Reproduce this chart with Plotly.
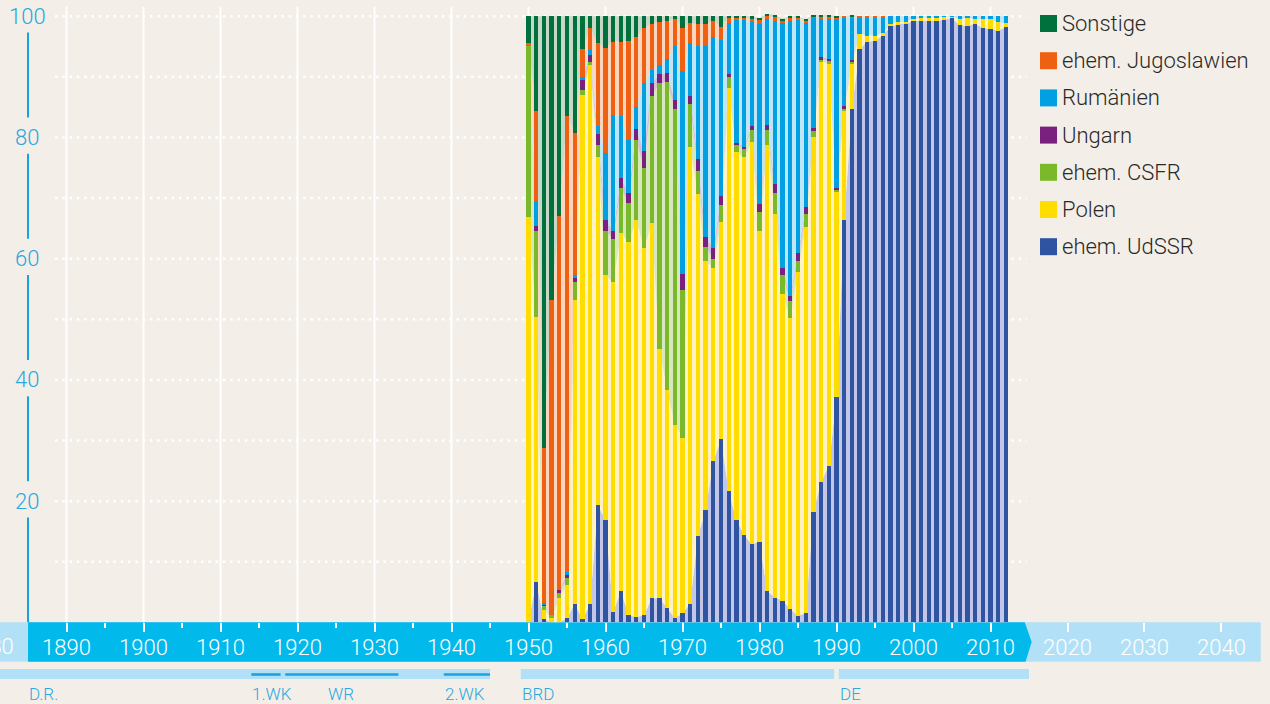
import plotly.graph_objects as go

years = list(range(1950, 2013))

udssr = [0, 6.7, 0.5, 0, 0, 0.7, 3.1, 0.5, 3.0, 19.3,
         16.9, 1.7, 5.2, 1.2, 0.9, 1.2, 4.0, 4.0, 2.4, 0.7,
         1.5, 3.1, 14.2, 18.5, 26.6, 30.2, 21.6, 16.9, 14.4, 12.9,
         13.3, 5.2, 4.1, 3.6, 2.2, 1.1, 1.5, 18.2, 23.2, 25.8,
         37.1, 66.4, 84.7, 94.6, 95.8, 95.9, 96.8, 98.3, 98.7, 98.8,
         99.2, 99.2, 99.2, 99.2, 99.4, 99.7, 98.5, 98.4, 98.7, 98.1,
         97.9, 97.6, 98.2]
polen = [66.8, 43.7, 1.5, 0.8, 4.1, 5.5, 50.1, 86.5, 88.9, 57.4,
         40.4, 54.4, 59.1, 61.5, 65.5, 60.5, 61.8, 41.1, 36.0, 31.9,
         29.0, 75.4, 56.5, 41.1, 31.9, 35.9, 66.5, 60.7, 62.3, 66.4,
         51.2, 73.6, 63.3, 50.6, 48.0, 56.7, 63.8, 61.8, 69.3, 66.3,
         34.0, 18.1, 7.5, 2.5, 1.0, 0.9, 0.4, 0.4, 0.3, 0.3,
         0.4, 0.5, 0.6, 0.6, 0.5, 0.2, 1.0, 1.3, 0.8, 1.4,
         1.6, 1.4, 0.6]
csfr = [28.2, 14.2, 0.8, 0.4, 0.8, 1.1, 2.9, 0.8, 0.6, 2.1,
        7.3, 7.2, 7.3, 6.5, 13.1, 13.2, 21.0, 43.8, 50.7, 52.1,
        24.3, 7.0, 3.7, 2.3, 1.5, 2.7, 1.8, 1.1, 1.5, 1.9,
        3.2, 2.4, 3.4, 3.1, 2.8, 1.8, 2.0, 1.0, 0.3, 0.6,
        0.3, 0.3, 0.3, 0, 0, 0, 0, 0, 0, 0,
        0, 0, 0, 0, 0, 0, 0, 0, 0, 0,
        0, 0, 0]
ungarn = [0, 0.8, 0.1, 0, 0.4, 0.6, 0.7, 1.8, 1.1, 1.8,
          1.8, 1.2, 1.7, 1.6, 1.9, 2.8, 2.1, 1.5, 1.5, 1.4,
          2.6, 1.3, 2.1, 1.6, 1.7, 1.5, 0.5, 0.4, 0.3, 0.7,
          1.3, 0.9, 1.5, 1.2, 0.8, 1.3, 1.3, 0.6, 0.4, 0.3,
          0.3, 0.3, 0.3, 0, 0, 0, 0, 0, 0, 0,
          0, 0, 0, 0, 0, 0, 0, 0, 0, 0,
          0, 0, 0]
rumaenien = [0, 4.1, 0.3, 0, 0, 0.4, 0.5, 0.3, 0.9, 1.3,
             11.0, 19.2, 10.2, 8.7, 3.6, 11.2, 2.2, 1.5, 2.4, 8.9,
             33.6, 8.7, 18.5, 31.6, 34.9, 25.8, 8.4, 20.3, 21.0, 17.1,
             29.7, 17.5, 26.9, 40.3, 45.4, 38.5, 30.3, 18.2, 6.4, 6.5,
             27.9, 14.6, 6.9, 2.7, 3.0, 3.0, 2.6, 1.3, 1.0, 0.9,
             0.4, 0.3, 0.2, 0.2, 0.1, 0.1, 0.5, 0.3, 0.5, 0.5,
             0.5, 1.0, 1.2]
jugoslawien = [0.5, 14.9, 25.6, 52.0, 61.8, 75.2, 23.5, 4.7, 3.6, 13.6,
               17.4, 12.1, 12.3, 16.4, 11.6, 9.2, 7.6, 7.1, 6.2, 4.6,
               7.1, 3.3, 3.7, 3.6, 2.6, 2.1, 0.9, 0.4, 0.3, 0.6,
               0.6, 0.4, 0.6, 0.5, 0.6, 0.4, 0.4, 0.2, 0.3, 0.5,
               0.2, 0.3, 0.2, 0.2, 0.2, 0.2, 0.2, 0, 0, 0,
               0, 0, 0, 0, 0, 0, 0, 0, 0, 0,
               0, 0, 0]
sonstige = [4.5, 15.6, 71.2, 46.8, 32.9, 16.5, 19.2, 5.4, 1.9, 4.5,
            5.2, 4.2, 4.2, 4.1, 3.4, 1.9, 1.3, 1.0, 0.8, 0.4,
            1.9, 1.2, 1.3, 1.3, 0.8, 1.8, 0.3, 0.2, 0.2, 0.4,
            0.4, 0.4, 0.4, 0.3, 0.2, 0.2, 0.2, 0.2, 0.2, 0.2,
            0.2, 0, 0.2, 0, 0, 0, 0, 0, 0, 0,
            0, 0, 0, 0, 0, 0, 0, 0, 0, 0,
            0, 0, 0]

series_names = ["ehem. UdSSR", "Polen", "ehem. CSFR", "Ungarn",
                "Rumänien", "ehem. Jugoslawien", "Sonstige"]
series_values = [udssr, polen, csfr, ungarn, rumaenien, jugoslawien, sonstige]
colors = ["#2F54A1", "#FFDD00", "#7AB929", "#7A2180", "#00A0E2", "#EE6012", "#00713D"]
tints = ["#C4C6E8", "#FFF3C6", "#D8E7C0", "#D8BEDB", "#BEE5F8", "#FBD5BD", "#C7D8C8"]

y_ticks = [20, 40, 60, 80, 100]
x_ticks = list(range(1890, 2050, 10))
x_minor = list(range(1895, 2010, 10))
grid_years = list(range(1890, 2020, 10))

periods_light = [(1881.36, 1945.0), (1949.0, 1989.7), (1990.3, 2015.0)]
periods_dark = [(1914.0, 1917.8), (1918.4, 1933.1), (1939.0, 1945.0)]
period_labels = [("D.R.", 1885.0, "left"), ("1.WK", 1914.0, "left"),
                 ("WR", 1925.6, "center"), ("2.WK", 1939.0, "left"),
                 ("BRD", 1949.0, "left"), ("DE", 1990.3, "left")]

BG = "#F3EFE8"
BLUE_TXT = "#29A8E0"
FONT = "Roboto"
H = 704.0
W = 1270.0

def py(p):
    return 1 - p / H

fig = go.Figure()

# light tinted areas (base subplot)
for name, vals, tint in zip(series_names, series_values, tints):
    fig.add_trace(go.Scatter(x=years, y=vals, stackgroup="tint", mode="none",
                             fillcolor=tint, name=name, showlegend=False,
                             hoverinfo="skip", xaxis="x", yaxis="y"))

# bars (overlay subplot, drawn above the tints)
for name, vals, col in zip(series_names, series_values, colors):
    fig.add_trace(go.Bar(x=years, y=vals, name=name, marker=dict(color=col, line=dict(width=0)),
                         width=0.55, showlegend=False, xaxis="x2", yaxis="y2"))

shapes = []
# vertical white gridlines
for g in grid_years:
    shapes.append(dict(type="line", xref="x", yref="y", x0=g, x1=g, y0=0, y1=101.6,
                       line=dict(color="white", width=2), layer="below"))
# dotted horizontal gridlines
for v in range(10, 101, 10):
    shapes.append(dict(type="line", xref="x", yref="y", x0=1888.5, x1=2014.7, y0=v, y1=v,
                       line=dict(color="white", width=2.5, dash="2.5px,4.8px"), layer="below"))
# y axis line segments
segs = [(100, 80), (80, 60), (60, 40), (40, 20), (20, 0)]
for top, bot in segs:
    y1 = top - 2.7
    y0 = bot + 3.3 if bot > 0 else 0
    shapes.append(dict(type="line", xref="paper", yref="y", x0=28 / W, x1=28 / W, y0=y0, y1=y1,
                       line=dict(color="#1AA4DF", width=2)))
# axis band
band_top, band_bot, band_mid = py(622.3), py(661.7), py(642.0)
shapes.append(dict(type="rect", xref="x", yref="paper", x0=1881.36, x1=2045.1,
                   y0=band_bot, y1=band_top, fillcolor="#B2E1F7", line=dict(width=0), layer="below"))
shapes.append(dict(type="path", xref="x", yref="paper",
                   path=f"M 1885.0,{band_top} L 2014.45,{band_top} L 2015.35,{band_mid} L 2014.55,{band_bot} L 1885.0,{band_bot} Z",
                   fillcolor="#02B9EC", line=dict(width=0), layer="below"))
# period bars
for a, b in periods_light:
    shapes.append(dict(type="rect", xref="x", yref="paper", x0=a, x1=b, y0=py(679), y1=py(669),
                       fillcolor="#B2E1F7", line=dict(width=0)))
for a, b in periods_dark:
    shapes.append(dict(type="rect", xref="x", yref="paper", x0=a, x1=b, y0=py(675.8), y1=py(673.2),
                       fillcolor="#1AA3DF", line=dict(width=0)))

annotations = []
for v in y_ticks:
    annotations.append(dict(xref="paper", yref="y", x=27 / W, y=v, text=str(v), showarrow=False,
                            xanchor="center", yanchor="middle",
                            font=dict(family=FONT, size=22, color=BLUE_TXT, weight=300)))
# partially visible 1880 label at the left edge
annotations.append(dict(xref="paper", yref="paper", x=-10.5 / W, y=py(646), text="1880", showarrow=False,
                        xanchor="center", yanchor="middle",
                        font=dict(family=FONT, size=22, color="white", weight=300)))
for txt, xv, anc in period_labels:
    annotations.append(dict(xref="x", yref="paper", x=xv, y=py(694), text=txt, showarrow=False,
                            xanchor=anc, yanchor="middle", xshift=-1 if anc == "left" else 0,
                            font=dict(family=FONT, size=17, color=BLUE_TXT, weight=300)))

# manual legend
legend_order = list(range(6, -1, -1))
for i, idx in enumerate(legend_order):
    cy = 23.5 + 37.2 * i
    shapes.append(dict(type="rect", xref="paper", yref="paper", x0=1040 / W, x1=1057 / W,
                       y0=py(cy + 8.5), y1=py(cy - 8.5), fillcolor=colors[idx], line=dict(width=0)))
    annotations.append(dict(xref="paper", yref="paper", x=1060 / W, y=py(cy), text=series_names[idx],
                            showarrow=False, xanchor="left", yanchor="middle",
                            font=dict(family=FONT, size=22, color="#2A2A2A", weight=300)))

xr = [1881.36, 2046.30]
yr = [0, 102.5]
ydom = [py(622.4), py(1.0)]

fig.update_layout(
    width=1270, height=704,
    margin=dict(l=0, r=0, t=0, b=0),
    paper_bgcolor=BG, plot_bgcolor=BG,
    barmode="stack",
    showlegend=False,
    shapes=shapes,
    annotations=annotations,
    xaxis=dict(range=xr, domain=[0, 1], anchor="y", tickmode="array", tickvals=x_ticks,
               ticktext=[str(t) for t in x_ticks], ticks="outside", ticklen=9, tickwidth=1.5,
               tickcolor="white", showgrid=False, zeroline=False, showline=False, automargin=False,
               tickfont=dict(family=FONT, size=22, color="white", weight=300),
               minor=dict(tickmode="array", tickvals=x_minor, ticks="outside", ticklen=5,
                          tickwidth=1.5, tickcolor="white", showgrid=False)),
    yaxis=dict(range=yr, domain=ydom, anchor="x", visible=False, fixedrange=True),
    xaxis2=dict(range=xr, overlaying="x", anchor="y2", visible=False),
    yaxis2=dict(range=yr, overlaying="y", anchor="x2", visible=False),
)

try:
    fig.update_xaxes(selector=dict(anchor="y"), ticklabelstandoff=-4)
except Exception:
    pass

fig.write_html(
    "out.html",
    config={"displayModeBar": False},
    post_script="document.body.style.margin='0';document.body.style.padding='0';document.body.style.overflow='hidden';",
)
